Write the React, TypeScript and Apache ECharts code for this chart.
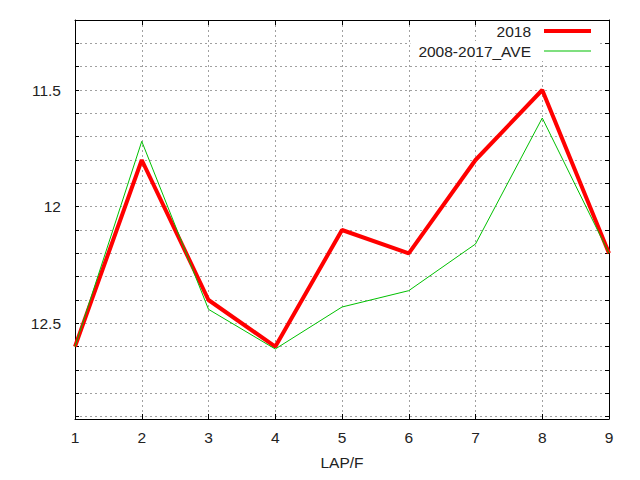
import React, { useEffect, useRef } from "react";
import * as echarts from "echarts";

const laps = [1, 2, 3, 4, 5, 6, 7, 8, 9];
const series2018 = [12.6, 11.8, 12.4, 12.6, 12.1, 12.2, 11.8, 11.5, 12.2];
const seriesAve = [12.6, 11.72, 12.44, 12.61, 12.43, 12.36, 12.16, 11.62, 12.2];
const name2018 = "2018";
const nameAve = "2008-2017_AVE";
const xName = "LAP/F";

const FONT = "Liberation Sans";
const FS = 15.5;
const TXT = "#222";
const GRID = "#a0a0a0";

export default function App() {
  const ref = useRef<HTMLDivElement>(null);
  useEffect(() => {
    if (!ref.current) return;
    const chart = echarts.init(ref.current, null, { renderer: "svg" });
    const gridLine = { show: true, lineStyle: { color: GRID, type: [2, 3] as any, width: 1 } };
    const yLabelFmt = (v: number) => {
      const d = v * 2;
      return Math.abs(d - Math.round(d)) < 1e-6 ? String(Math.round(v * 100) / 100) : "";
    };
    const legendBase = {
      orient: "vertical",
      right: 40,
      itemWidth: 47,
      align: "right",
      backgroundColor: "#fff",
      padding: [2, 9, 2, 8],
      textStyle: { fontFamily: FONT, fontSize: FS, color: TXT, padding: [0, 8, 0, 0] },
      selectedMode: false,
    };
    chart.setOption({
      animation: false,
      backgroundColor: "#fff",
      grid: { left: 75, right: 31, top: 20, bottom: 61, containLabel: false, outerBoundsMode: "none" },
      legend: [
        { ...legendBase, top: 21, itemHeight: 4, data: [{ name: name2018, icon: "rect" }] },
        { ...legendBase, top: 41, itemHeight: 1, data: [{ name: nameAve, icon: "rect" }] },
      ],
      xAxis: [
        {
          type: "value",
          min: 1,
          max: 9,
          interval: 1,
          name: xName,
          nameLocation: "middle",
          nameGap: 35,
          nameTextStyle: { fontFamily: FONT, fontSize: FS, color: TXT },
          axisLine: { show: true, onZero: false, lineStyle: { color: "#000", width: 1 } },
          axisTick: { show: true, inside: true, length: 5, lineStyle: { color: "#000" } },
          axisLabel: { fontFamily: FONT, fontSize: FS, color: TXT, margin: 10 },
          splitLine: gridLine,
        },
        {
          type: "value",
          position: "top",
          min: 1,
          max: 9,
          interval: 1,
          axisLine: { show: true, onZero: false, lineStyle: { color: "#000", width: 1 } },
          axisTick: { show: true, inside: true, length: 5, lineStyle: { color: "#000" } },
          axisLabel: { show: false },
          splitLine: { show: false },
        },
      ],
      yAxis: [
        {
          type: "value",
          inverse: true,
          min: 11.2,
          max: 12.91,
          interval: 0.1,
          axisLine: { show: true, onZero: false, lineStyle: { color: "#000", width: 1 } },
          axisTick: { show: true, inside: true, length: 4, lineStyle: { color: "#000" } },
          axisLabel: { fontFamily: FONT, fontSize: FS, color: TXT, margin: 14, formatter: yLabelFmt },
          splitLine: gridLine,
        },
        {
          type: "value",
          position: "right",
          inverse: true,
          min: 11.2,
          max: 12.91,
          interval: 0.1,
          axisLine: { show: true, onZero: false, lineStyle: { color: "#000", width: 1 } },
          axisTick: { show: true, inside: true, length: 4, lineStyle: { color: "#000" } },
          axisLabel: { show: false },
          splitLine: { show: false },
        },
      ],
      series: [
        {
          name: name2018,
          type: "line",
          symbol: "none",
          data: laps.map((x, i) => [x, series2018[i]]),
          lineStyle: { color: "#ff0000", width: 4 },
          itemStyle: { color: "#ff0000" },
        },
        {
          name: nameAve,
          type: "line",
          symbol: "none",
          data: laps.map((x, i) => [x, seriesAve[i]]),
          lineStyle: { color: "#00c000", width: 1 },
          itemStyle: { color: "#00c000" },
        },
      ],
    });
    return () => chart.dispose();
  }, []);
  return (
    <div
      ref={ref}
      style={{ position: "fixed", left: 0, top: 0, width: 640, height: 480, background: "#fff" }}
    />
  );
}
